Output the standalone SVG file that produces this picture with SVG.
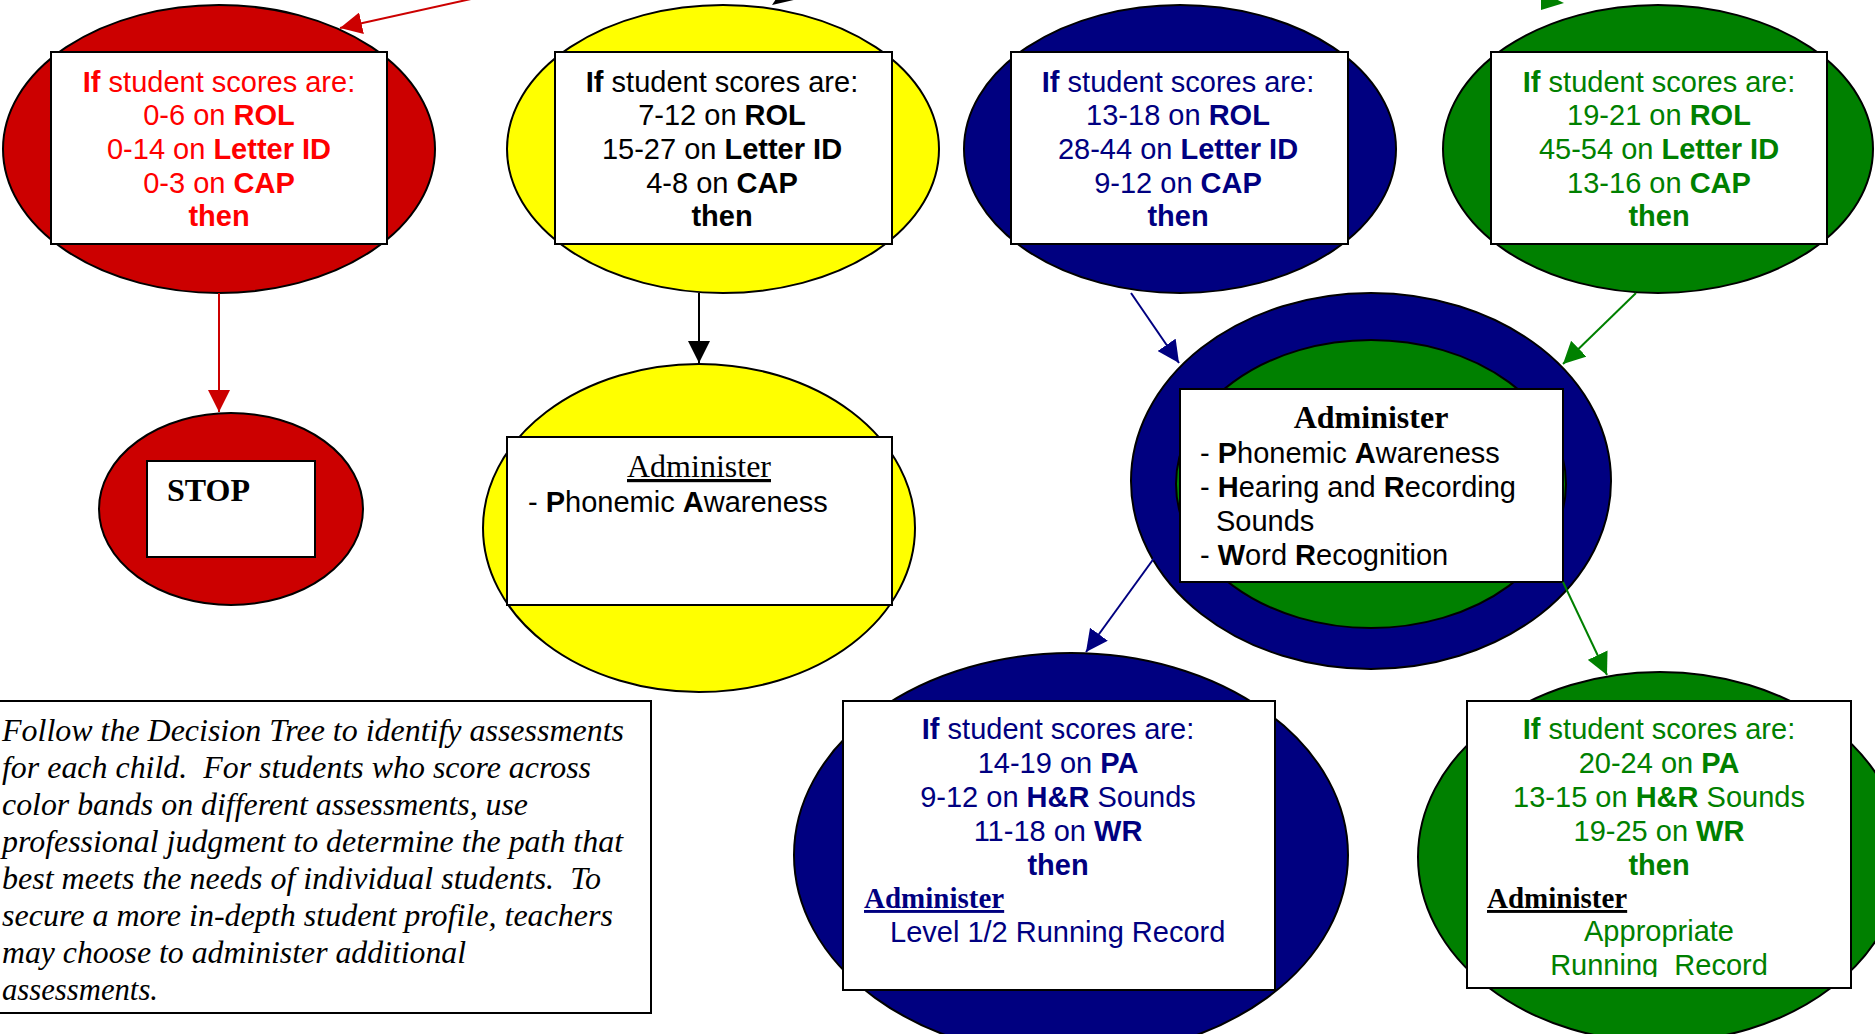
<svg xmlns="http://www.w3.org/2000/svg" width="1875" height="1034" viewBox="0 0 1875 1034">
<defs>
<style>
.ol{stroke:#000;stroke-width:2}
.box{fill:#fff;stroke:#000;stroke-width:2}
.sans{font-family:"Liberation Sans",Arial,sans-serif;font-size:29px}
.serif{font-family:"Liberation Serif","Times New Roman",serif}
.c{text-anchor:middle}
.b{font-weight:bold}
.u{text-decoration:underline}
.red{fill:#FF0000}
.navy{fill:#000080}
.grn{fill:#008000}
.blk{fill:#000}
.it{font-family:"Liberation Serif","Times New Roman",serif;font-style:italic;font-size:32px;fill:#000;white-space:pre}
.cn{fill:none;stroke-width:2}
</style>
<marker id="mr" markerUnits="userSpaceOnUse" markerWidth="22" markerHeight="22" refX="22" refY="11" orient="auto" viewBox="0 0 22 22"><path d="M0,0 L22,11 L0,22 z" fill="#CC0000"/></marker>
<marker id="mk" markerUnits="userSpaceOnUse" markerWidth="22" markerHeight="22" refX="22" refY="11" orient="auto" viewBox="0 0 22 22"><path d="M0,0 L22,11 L0,22 z" fill="#000"/></marker>
<marker id="mn" markerUnits="userSpaceOnUse" markerWidth="22" markerHeight="22" refX="22" refY="11" orient="auto" viewBox="0 0 22 22"><path d="M0,0 L22,11 L0,22 z" fill="#000080"/></marker>
<marker id="mg" markerUnits="userSpaceOnUse" markerWidth="22" markerHeight="22" refX="22" refY="11" orient="auto" viewBox="0 0 22 22"><path d="M0,0 L22,11 L0,22 z" fill="#008000"/></marker>
<clipPath id="clipG"><rect x="1467" y="701" width="384" height="276"/></clipPath>
</defs>
<rect x="0" y="0" width="1875" height="1034" fill="#fff"/>

<g id="node-red-top">
<ellipse class="ol" cx="219" cy="149" rx="216" ry="144" fill="#CC0000"/>
<rect class="box" x="51" y="52" width="336" height="192"/>
<text class="sans c red" x="219" y="92"><tspan class="b">If</tspan> student scores are:</text>
<text class="sans c red" x="219" y="125">0-6 on <tspan class="b">ROL</tspan></text>
<text class="sans c red" x="219" y="159">0-14 on <tspan class="b">Letter ID</tspan></text>
<text class="sans c red" x="219" y="193">0-3 on <tspan class="b">CAP</tspan></text>
<text class="sans c red b" x="219" y="226">then</text>
</g>

<g id="node-yellow-top">
<ellipse class="ol" cx="723" cy="149" rx="216" ry="144" fill="#FFFF00"/>
<rect class="box" x="555" y="52" width="337" height="192"/>
<text class="sans c blk" x="722" y="92"><tspan class="b">If</tspan> student scores are:</text>
<text class="sans c blk" x="722" y="125">7-12 on <tspan class="b">ROL</tspan></text>
<text class="sans c blk" x="722" y="159">15-27 on <tspan class="b">Letter ID</tspan></text>
<text class="sans c blk" x="722" y="193">4-8 on <tspan class="b">CAP</tspan></text>
<text class="sans c blk b" x="722" y="226">then</text>
</g>

<g id="node-navy-top">
<ellipse class="ol" cx="1180" cy="149" rx="216" ry="144" fill="#000080"/>
<rect class="box" x="1011" y="52" width="337" height="192"/>
<text class="sans c navy" x="1178" y="92"><tspan class="b">If</tspan> student scores are:</text>
<text class="sans c navy" x="1178" y="125">13-18 on <tspan class="b">ROL</tspan></text>
<text class="sans c navy" x="1178" y="159">28-44 on <tspan class="b">Letter ID</tspan></text>
<text class="sans c navy" x="1178" y="193">9-12 on <tspan class="b">CAP</tspan></text>
<text class="sans c navy b" x="1178" y="226">then</text>
</g>

<g id="node-green-top">
<ellipse class="ol" cx="1658" cy="149" rx="215" ry="144" fill="#008000"/>
<rect class="box" x="1491" y="52" width="336" height="192"/>
<text class="sans c grn" x="1659" y="92"><tspan class="b">If</tspan> student scores are:</text>
<text class="sans c grn" x="1659" y="125">19-21 on <tspan class="b">ROL</tspan></text>
<text class="sans c grn" x="1659" y="159">45-54 on <tspan class="b">Letter ID</tspan></text>
<text class="sans c grn" x="1659" y="193">13-16 on <tspan class="b">CAP</tspan></text>
<text class="sans c grn b" x="1659" y="226">then</text>
</g>

<g id="node-stop">
<ellipse class="ol" cx="231" cy="509" rx="132" ry="96" fill="#CC0000"/>
<rect class="box" x="147" y="461" width="168" height="96"/>
<text class="serif b blk" x="167" y="501" font-size="32">STOP</text>
</g>

<g id="node-yellow-admin">
<ellipse class="ol" cx="699" cy="528" rx="216" ry="164" fill="#FFFF00"/>
<rect class="box" x="507" y="437" width="385" height="168"/>
<text class="serif c u blk" x="699" y="477" font-size="32">Administer</text>
<text class="sans blk" x="528" y="512">- <tspan class="b">P</tspan>honemic <tspan class="b">A</tspan>wareness</text>
</g>

<g id="node-navygreen-admin">
<ellipse class="ol" cx="1371" cy="481" rx="240" ry="188" fill="#000080"/>
<ellipse class="ol" cx="1371" cy="484" rx="195" ry="144" fill="#008000"/>
<rect class="box" x="1180" y="389" width="383" height="193"/>
<text class="serif c b blk" x="1371" y="428" font-size="32">Administer</text>
<text class="sans blk" x="1200" y="463">- <tspan class="b">P</tspan>honemic <tspan class="b">A</tspan>wareness</text>
<text class="sans blk" x="1200" y="497">- <tspan class="b">H</tspan>earing and <tspan class="b">R</tspan>ecording</text>
<text class="sans blk" x="1216" y="531">Sounds</text>
<text class="sans blk" x="1200" y="565">- <tspan class="b">W</tspan>ord <tspan class="b">R</tspan>ecognition</text>
</g>

<g id="node-navy-bottom">
<ellipse class="ol" cx="1071" cy="855" rx="277" ry="202" fill="#000080"/>
<rect class="box" x="843" y="701" width="432" height="289"/>
<text class="sans c navy" x="1058" y="739"><tspan class="b">If</tspan> student scores are:</text>
<text class="sans c navy" x="1058" y="773">14-19 on <tspan class="b">PA</tspan></text>
<text class="sans c navy" x="1058" y="807">9-12 on <tspan class="b">H&amp;R</tspan> Sounds</text>
<text class="sans c navy" x="1058" y="841">11-18 on <tspan class="b">WR</tspan></text>
<text class="sans c navy b" x="1058" y="875">then</text>
<text class="serif b u navy" x="864" y="908" font-size="29">Administer</text>
<text class="sans navy" x="890" y="942">Level 1/2 Running Record</text>
</g>

<g id="node-green-bottom">
<ellipse class="ol" cx="1660" cy="857" rx="242" ry="185" fill="#008000"/>
<rect class="box" x="1467" y="701" width="384" height="287"/>
<text class="sans c grn" x="1659" y="739"><tspan class="b">If</tspan> student scores are:</text>
<text class="sans c grn" x="1659" y="773">20-24 on <tspan class="b">PA</tspan></text>
<text class="sans c grn" x="1659" y="807">13-15 on <tspan class="b">H&amp;R</tspan> Sounds</text>
<text class="sans c grn" x="1659" y="841">19-25 on <tspan class="b">WR</tspan></text>
<text class="sans c grn b" x="1659" y="875">then</text>
<text class="serif b u blk" x="1487" y="908" font-size="29">Administer</text>
<g clip-path="url(#clipG)">
<text class="sans c grn" x="1659" y="941">Appropriate</text>
<text class="sans c grn" x="1659" y="975" style="white-space:pre">Running  Record</text>
</g>
</g>

<g id="node-note">
<rect x="-2" y="701" width="653" height="312" fill="#fff" stroke="#000" stroke-width="2"/>
<text class="it" x="2" y="741" textLength="622" lengthAdjust="spacingAndGlyphs">Follow the Decision Tree to identify assessments</text>
<text class="it" x="2" y="778" textLength="589" lengthAdjust="spacingAndGlyphs">for each child.  For students who score across</text>
<text class="it" x="2" y="815" textLength="526" lengthAdjust="spacingAndGlyphs">color bands on different assessments, use</text>
<text class="it" x="2" y="852" textLength="621" lengthAdjust="spacingAndGlyphs">professional judgment to determine the path that</text>
<text class="it" x="2" y="889" textLength="599" lengthAdjust="spacingAndGlyphs">best meets the needs of individual students.  To</text>
<text class="it" x="2" y="926" textLength="611" lengthAdjust="spacingAndGlyphs">secure a more in-depth student profile, teachers</text>
<text class="it" x="2" y="963" textLength="464" lengthAdjust="spacingAndGlyphs">may choose to administer additional</text>
<text class="it" x="2" y="1000" textLength="156" lengthAdjust="spacingAndGlyphs">assessments.</text>
</g>

<g id="connectors">
<line class="cn" stroke="#CC0000" x1="480" y1="-3" x2="340" y2="28" marker-end="url(#mr)"/>
<polygon points="772,5 798,-1 786,-16" fill="#000"/>
<polygon points="1541,-8 1541,10 1564,3" fill="#008000"/>
<line class="cn" stroke="#CC0000" x1="219" y1="293" x2="219" y2="412" marker-end="url(#mr)"/>
<line class="cn" stroke="#000" x1="699" y1="293" x2="699" y2="363" marker-end="url(#mk)"/>
<line class="cn" stroke="#000080" x1="1131" y1="293" x2="1179" y2="363" marker-end="url(#mn)"/>
<line class="cn" stroke="#008000" x1="1636" y1="293" x2="1563" y2="364" marker-end="url(#mg)"/>
<line class="cn" stroke="#000080" x1="1160" y1="550" x2="1086" y2="652" marker-end="url(#mn)"/>
<line class="cn" stroke="#008000" x1="1563" y1="582" x2="1607" y2="675" marker-end="url(#mg)"/>
</g>
</svg>
